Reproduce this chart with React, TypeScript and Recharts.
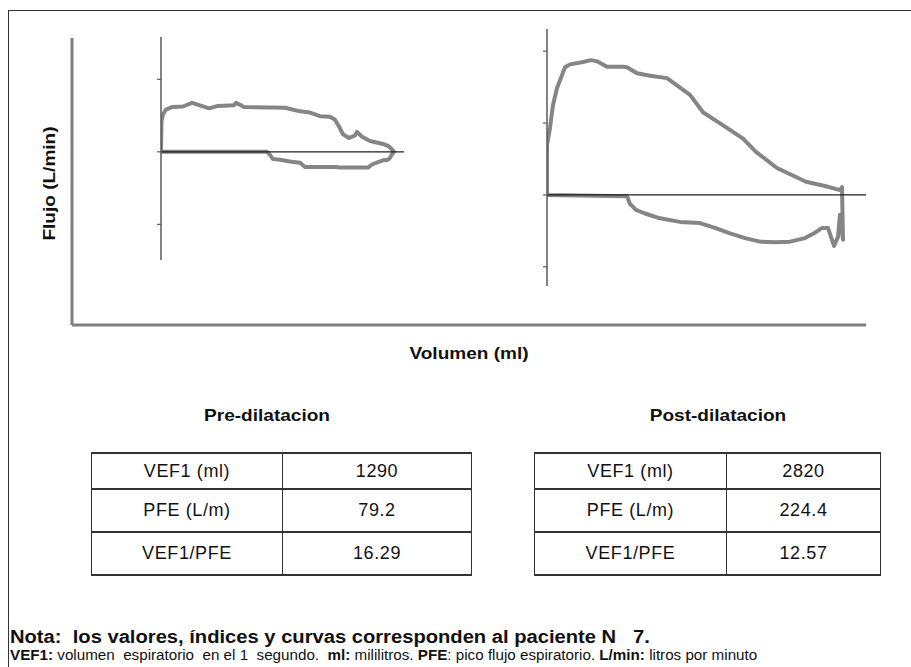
import React from 'react';
import { LineChart, Line, XAxis, YAxis, ReferenceLine, Label } from 'recharts';

// ---- Data (volume in ml, flow in L/min) ----
const preVolume = [0, 5, 20, 50, 110, 220, 310, 390, 480, 570, 730, 750, 800, 830, 1240, 1390, 1490, 1590, 1690, 1740, 1780, 1820, 1880, 1940, 1960, 2010, 2090, 2220, 2270, 2310, 2330,
  2310, 2290, 2270, 2220, 2170, 2110, 2070, 1790, 1740, 1440, 1390, 1290, 1190, 1120, 1090, 1060, 0];
const preFlow = [0, 50, 62, 70, 74, 75, 81, 77, 72, 76, 77, 81, 77, 74, 73, 67, 65, 59, 58, 53, 42, 29, 23, 27, 33, 25, 18, 13, 10, 4, 0,
  -4, -10, -13, -14, -17, -21, -26, -26, -25, -25, -18, -16, -13, -12, -5, 0, 0];

const postVolume = [0, 0, 30, 60, 100, 150, 180, 230, 360, 440, 500, 600, 760, 800, 900, 1030, 1200, 1300, 1430, 1560, 1680, 1800, 1960, 2090, 2300, 2590, 2780, 2930, 2950,
  2960, 2930, 2910, 2870, 2810, 2750, 2680, 2580, 2430, 2280, 2130, 1980, 1830, 1680, 1530, 1330, 1130, 980, 890, 830, 800, 0];
const postFlow = [0, 83, 112, 150, 178, 200, 213, 218, 222, 225, 223, 214, 214, 213, 203, 199, 195, 183, 167, 138, 125, 112, 94, 72, 45, 22, 15, 8, 13,
  -75, -33, -70, -85, -55, -55, -63, -72, -78, -79, -78, -72, -64, -55, -47, -45, -39, -31, -25, -15, -2, 0];

const preDomainX = [0, 2430];
const preDomainY = [-179, 190];
const preTicks = [-120, 0, 120];
const postDomainX = [0, 3190];
const postDomainY = [-152, 277];
const postTicks = [-120, 0, 120, 240];

const axisTitleY = 'Flujo (L/min)';
const axisTitleX = 'Volumen (ml)';
const preTitle = 'Pre-dilatacion';
const postTitle = 'Post-dilatacion';
const rowLabels = ['VEF1 (ml)', 'PFE (L/m)', 'VEF1/PFE'];
const preValues = ['1290', '79.2', '16.29'];
const postValues = ['2820', '224.4', '12.57'];
const noteText = 'Nota:  los valores, índices y curvas corresponden al paciente N   7.';

const preData = preVolume.map((v, i) => ({ v, f: preFlow[i] }));
const postData = postVolume.map((v, i) => ({ v, f: postFlow[i] }));
const outerData = [{ x: 0, y: 0 }, { x: 1, y: 1 }];

const FONT = '"Liberation Sans", Arial, sans-serif';
const CURVE = '#858585';
const SX = 1.12;

function Loop({ data, left, top, width, height, dx, dy, ticks }: any) {
  return (
    <div style={{ position: 'absolute', left, top }}>
      <LineChart width={width} height={height} data={data} margin={{ top: 5, right: 5, bottom: 5, left: 0 }}>
        <XAxis type="number" dataKey="v" domain={dx} hide allowDataOverflow />
        <YAxis
          type="number"
          domain={dy}
          ticks={ticks}
          width={20}
          tickSize={4}
          tickFormatter={() => ''}
          axisLine={{ stroke: '#5a5a5a', strokeWidth: 1.5 }}
          tickLine={{ stroke: '#5a5a5a', strokeWidth: 1.2 }}
          allowDataOverflow
        />
        <Line
          type="linear"
          dataKey="f"
          stroke={CURVE}
          strokeWidth={4}
          dot={false}
          activeDot={false}
          strokeLinejoin="round"
          isAnimationActive={false}
        />
        <ReferenceLine y={0} stroke="#1e1e1e" strokeWidth={1.3} />
      </LineChart>
    </div>
  );
}

function StatTable({ left, width, col1, values }: any) {
  const heights = [36, 43, 43];
  const hb = '2px solid #333';
  const vb = '1.5px solid #333';
  return (
    <table
      style={{
        position: 'absolute',
        left,
        top: 452,
        width,
        borderCollapse: 'collapse',
        fontFamily: FONT,
        fontSize: 18,
        letterSpacing: 0.6,
        color: '#111',
      }}
    >
      <tbody>
        {rowLabels.map((lab, i) => (
          <tr key={lab} style={{ height: heights[i] }}>
            <td style={{ width: col1, borderTop: hb, borderBottom: hb, borderLeft: vb, borderRight: vb, textAlign: 'center', padding: 0, verticalAlign: 'middle' }}>{lab}</td>
            <td style={{ borderTop: hb, borderBottom: hb, borderLeft: vb, borderRight: vb, textAlign: 'center', padding: 0, verticalAlign: 'middle' }}>{values[i]}</td>
          </tr>
        ))}
      </tbody>
    </table>
  );
}

export default function App() {
  const titleStyle: React.CSSProperties = {
    position: 'absolute',
    transform: `translate(-50%, -50%) scaleX(${SX})`,
    whiteSpace: 'nowrap',
    fontFamily: FONT,
    fontWeight: 700,
    fontSize: 17,
    color: '#111',
  };
  const svgHead = { fontFamily: FONT, fontWeight: 700, fontSize: 17 };
  return (
    <div style={{ position: 'fixed', left: 0, top: 0, width: 911, height: 667, overflow: 'hidden', background: '#fff' }}>
      {/* outer frame */}
      <div style={{ position: 'absolute', left: 8, top: 10, width: 960, height: 700, borderLeft: '1px solid #333', borderTop: '1px solid #333' }} />

      {/* outer axes */}
      <div style={{ position: 'absolute', left: 10, top: 20 }}>
        <LineChart width={860} height={360} data={outerData} margin={{ top: 18, right: 4, bottom: 0, left: 0 }}>
          <XAxis
            type="number"
            dataKey="x"
            domain={[0, 1]}
            height={55}
            tick={false}
            tickLine={false}
            axisLine={{ stroke: '#7f7f7f', strokeWidth: 3 }}
          >
            <Label
              content={(p: any) => {
                const vb = p.viewBox || {};
                const cx = vb.x + vb.width / 2;
                const cy = vb.y + 28;
                return (
                  <text
                    x={0}
                    y={0}
                    transform={`translate(${cx} ${cy}) scale(${SX} 1)`}
                    textAnchor="middle"
                    dominantBaseline="central"
                    style={svgHead}
                    fill="#111"
                  >
                    {axisTitleX}
                  </text>
                );
              }}
            />
          </XAxis>
          <YAxis
            type="number"
            dataKey="y"
            domain={[0, 1]}
            width={62}
            tick={false}
            tickLine={false}
            axisLine={{ stroke: '#7f7f7f', strokeWidth: 3 }}
          >
            <Label
              content={(p: any) => {
                const vb = p.viewBox || {};
                const cx = vb.x + vb.width - 23;
                const cy = vb.y + vb.height / 2 + 2;
                return (
                  <text
                    x={0}
                    y={0}
                    transform={`translate(${cx} ${cy}) rotate(-90) scale(${SX} 1)`}
                    textAnchor="middle"
                    dominantBaseline="central"
                    style={svgHead}
                    fill="#111"
                  >
                    {axisTitleY}
                  </text>
                );
              }}
            />
          </YAxis>
        </LineChart>
      </div>

      <Loop data={preData} left={141} top={32} width={268} height={233} dx={preDomainX} dy={preDomainY} ticks={preTicks} />
      <Loop data={postData} left={527} top={24} width={344} height={267} dx={postDomainX} dy={postDomainY} ticks={postTicks} />

      <div style={{ ...titleStyle, left: 267, top: 416 }}>{preTitle}</div>
      <div style={{ ...titleStyle, left: 718, top: 416 }}>{postTitle}</div>

      <StatTable left={91} width={381} col1={190} values={preValues} />
      <StatTable left={534} width={347} col1={191} values={postValues} />

      <div
        style={{
          position: 'absolute',
          left: 10,
          top: 627,
          whiteSpace: 'pre',
          fontFamily: FONT,
          fontWeight: 700,
          fontSize: 18,
          lineHeight: '21px',
          transform: 'scaleX(1.12)',
          transformOrigin: '0 0',
          color: '#111',
        }}
      >
        {noteText}
      </div>
      <div
        style={{
          position: 'absolute',
          left: 10,
          top: 647,
          whiteSpace: 'pre',
          fontFamily: FONT,
          fontSize: 14,
          lineHeight: '16px',
          transform: 'scaleX(1.085)',
          transformOrigin: '0 0',
          color: '#111',
        }}
      >
        <b>VEF1:</b>{' volumen  espiratorio  en el 1  segundo.  '}<b>ml:</b>{' mililitros. '}<b>PFE</b>{': pico flujo espiratorio. '}<b>L/min:</b>{' litros por minuto'}
      </div>
    </div>
  );
}
